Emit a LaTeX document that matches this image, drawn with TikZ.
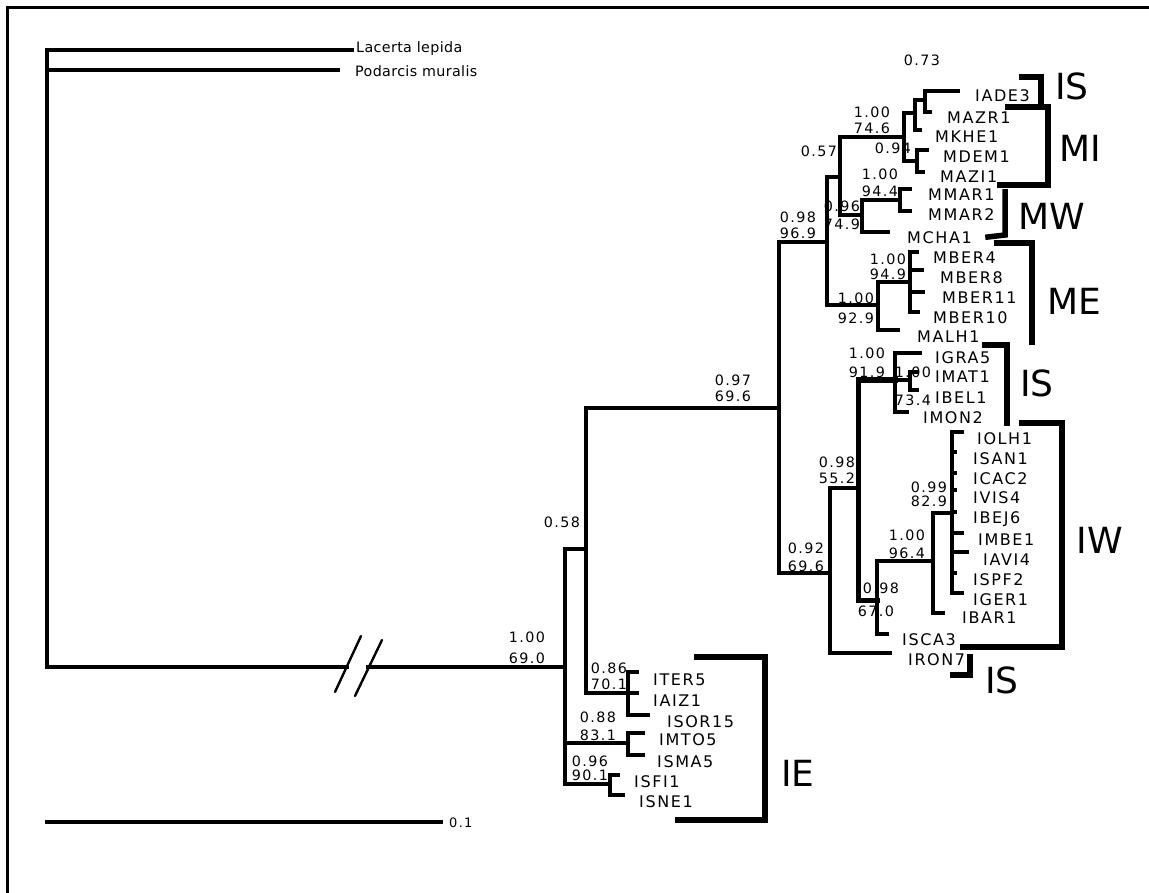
\documentclass[tikz,border=0pt]{standalone}
\usepackage{fontspec}
\newfontfamily\leaffont[LetterSpace=10]{DejaVu Sans}
\newfontfamily\ogfont[LetterSpace=2.5]{DejaVu Sans}
\newfontfamily\grpfont{DejaVu Sans}
\begin{document}
\begin{tikzpicture}[x=1pt,y=-1pt,
  br/.style={line width=3.2pt,line cap=rect},
  thk/.style={line width=5pt,line cap=rect},
  grp/.style={line width=5.5pt,line cap=rect,line join=miter},
  leaf/.style={anchor=west,inner sep=0pt,text height=11.7pt,text depth=0pt,font=\leaffont\fontsize{16}{16}\selectfont},
  bs/.style={anchor=center,inner sep=0pt,text height=10.4pt,text depth=0pt,font=\leaffont\fontsize{14.3}{14.3}\selectfont},
  og/.style={anchor=west,inner sep=0pt,text height=10.5pt,text depth=0pt,font=\ogfont\fontsize{14.3}{14.3}\selectfont},
  grl/.style={anchor=center,inner sep=0pt,text height=26.2pt,text depth=0pt,font=\grpfont\fontsize{36}{36}\selectfont}]
\useasboundingbox (0,0) rectangle (1149,893);
\fill[white] (0,0) rectangle (1149,893);
% frame
\draw[line width=3pt] (7,893) -- (7,8) -- (1149,8);

% outgroup
\coordinate (R) at (47,50);
\coordinate (lac) at (352,50);
\coordinate (pod) at (338,70);
\node[og] (llac) at (356,47) {Lacerta lepida};
\node[og] (lpod) at (355,71) {Podarcis muralis};
\coordinate (brkA) at (347,667);
\coordinate (brkB) at (368,667);

% internal nodes
\foreach \n/\x/\y in {I0/565/667, N058/586/549, N086/628/693, N088/628/743, N096/610/784,
  N097/779/408, NA/827/242, N057/840/177, N746/904/137, N915/915/113, N925/925/100,
  N094/917/161, N969/862/215, N944/900/200, N929/878/305, N949/910/282,
  N092/830/573, N552/858/488, N919/895/380, N734/910/380, N670/877/600,
  N964/933/561, N829/952/513}
  \coordinate (\n) at (\x,\y);

% tips and labels
\foreach \n/\tx/\ty/\lx/\ly in {
  ITER5/637/672/653/680, IAIZ1/637/693/653/701, ISOR15/648/715/667/722,
  IMTO5/643/733/659/740, ISMA5/643/755/657/762, ISFI1/618/775/634/782, ISNE1/623/795/639/802,
  IADE3/958/91/975/96, MAZR1/930/112/947/118, MKHE1/920/130/935/137,
  MDEM1/927/150/943/157, MAZI1/923/172/940/177, MMAR1/910/189/928/195,
  MMAR2/910/211/928/215, MCHA1/888/232/907/238, MBER4/917/252/933/258,
  MBER8/922/270/940/278, MBER11/923/292/942/298, MBER10/918/312/933/318,
  MALH1/898/330/917/337, IGRA5/920/353/935/358, IMAT1/917/372/935/377,
  IBEL1/917/390/935/398, IMON2/907/412/923/418, IOLH1/962/432/977/439,
  ISAN1/955/452/973/459, ICAC2/955/473/973/479, IVIS4/955/490/973/498,
  IBEJ6/955/512/973/518, IMBE1/962/533/978/540, IAVI4/967/552/983/560,
  ISPF2/955/573/973/580, IGER1/962/593/973/600, IBAR1/943/613/962/618,
  ISCA3/887/634/902/640, IRON7/890/653/908/660}{
  \coordinate (\n) at (\tx,\ty);
  \node[leaf] (l\n) at (\lx,\ly) {\n};
}

% branches
\draw[br] (R) |- (lac);
\draw[br] (R) |- (pod);
\draw[br] (R) |- (brkA);
\draw[br] (brkB) -- (I0);
\foreach \p/\c in {I0/N058, I0/N088, I0/N096, N058/N097, N058/N086,
  N086/ITER5, N086/IAIZ1, N086/ISOR15, N088/IMTO5, N088/ISMA5, N096/ISFI1, N096/ISNE1,
  N097/NA, N097/N092, NA/N057, NA/N929, N057/N746, N057/N969, N746/N915, N746/N094,
  N915/N925, N915/MKHE1, N925/IADE3, N925/MAZR1, N094/MDEM1, N094/MAZI1,
  N969/N944, N969/MCHA1, N944/MMAR1, N944/MMAR2, N929/N949, N929/MALH1,
  N949/MBER4, N949/MBER8, N949/MBER11, N949/MBER10, N092/N552, N092/IRON7,
  N919/IGRA5, N919/N734, N919/IMON2, N734/IMAT1, N734/IBEL1,
  N670/N964, N670/ISCA3, N964/N829, N964/IBAR1,
  N829/IOLH1, N829/ISAN1, N829/ICAC2, N829/IVIS4, N829/IBEJ6, N829/IMBE1,
  N829/IAVI4, N829/ISPF2, N829/IGER1}
  \draw[br] (\p) |- (\c);
\draw[thk] (N552) |- (N919);
\draw[thk] (N552) |- (N670);

% break marks
\draw[line width=2.4pt,line cap=round] (335,692) -- (361,636);
\draw[line width=2.4pt,line cap=round] (355,696) -- (382,640);

% support values
\foreach \x/\y/\t [count=\i] in {527/637/1.00, 527/658/69.0, 562/522/0.58,
  609/668/0.86, 609/684/70.1, 598/717/0.88, 598/735/83.1, 590/761/0.96, 590/775/90.1,
  733/380/0.97, 733/396/69.6, 798/217/0.98, 798/233/96.9, 819/151/0.57, 922/60/0.73,
  872/112/1.00, 872/128/74.6, 893/148/0.94, 880/174/1.00, 880/191/94.4,
  842/206/0.96, 842/224/74.9, 888/259/1.00, 888/274/94.9, 856/298/1.00, 856/318/92.9,
  806/548/0.92, 806/566/69.6, 837/462/0.98, 837/478/55.2, 867/353/1.00, 867/372/91.9,
  913/372/1.00, 913/400/73.4, 881/588/0.98, 876/611/67.0, 907/535/1.00, 907/553/96.4,
  929/487/0.99, 929/501/82.9}
  \node[bs] (bs\i) at (\x,\y) {\t};

% group brackets
\draw[grp] (1022,77) -- (1041,77) -- (1041,102);
\node[grl] (gIS1) at (1072,86) {IS};
\draw[grp] (1008,107) -- (1048,107) -- (1048,185) -- (1000,185);
\node[grl] (gMI) at (1080,148) {MI};
\draw[grp] (1005,192) -- (1005,235) -- (988,237);
\node[grl] (gMW) at (1052,216) {MW};
\draw[grp] (997,243) -- (1032,243) -- (1032,342);
\node[grl] (gME) at (1074,301) {ME};
\draw[grp] (985,345) -- (1007,345) -- (1007,423);
\node[grl] (gIS2) at (1037,383) {IS};
\draw[grp] (1022,423) -- (1062,423) -- (1062,647) -- (963,647);
\node[grl] (gIW) at (1100,540) {IW};
\draw[grp] (970,657) -- (970,675) -- (953,675);
\node[grl] (gIS3) at (1002,680) {IS};
\draw[grp] (697,657) -- (765,657) -- (765,820) -- (678,820);
\node[grl] (gIE) at (798,773) {IE};

% scale bar
\coordinate (sb1) at (47,822);
\coordinate (sb2) at (441,822);
\draw[br] (sb1) -- (sb2);
\node[anchor=west,inner sep=0pt,text height=10pt,text depth=0pt,font=\leaffont\fontsize{13}{13}\selectfont] (lsb) at (449,822) {0.1};
\end{tikzpicture}
\end{document}
